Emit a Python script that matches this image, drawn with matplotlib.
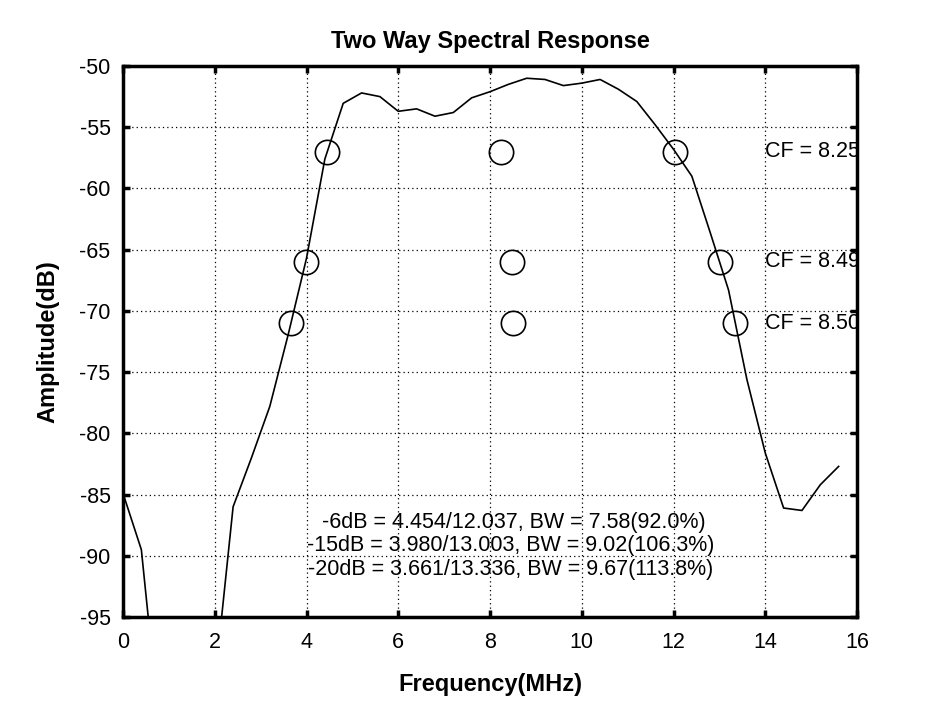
import matplotlib
matplotlib.use("Agg")
import matplotlib.pyplot as plt

plt.rcParams['font.family'] = ['Liberation Sans', 'DejaVu Sans']
plt.rcParams['axes.unicode_minus'] = False

# Spectral response data (MHz, dB)
freq = [0.0, 0.4, 0.8, 1.2, 1.6, 2.0, 2.4, 2.8, 3.2, 3.6,
        4.0, 4.4, 4.8, 5.2, 5.6, 6.0, 6.4, 6.8, 7.2, 7.6,
        8.0, 8.4, 8.8, 9.2, 9.6, 10.0, 10.4, 10.8, 11.2, 11.6,
        12.0, 12.4, 12.8, 13.2, 13.6, 14.0, 14.4, 14.8, 15.2, 15.6]
amp = [-84.9, -89.5, -104.2, -106.0, -108.0, -100.4, -86.0, -82.0, -77.8, -71.95,
       -65.7, -57.6, -53.05, -52.2, -52.5, -53.7, -53.5, -54.1, -53.8, -52.6,
       -52.1, -51.5, -51.0, -51.1, -51.6, -51.4, -51.1, -51.9, -52.9, -54.8,
       -56.8, -59.0, -63.6, -68.3, -75.6, -81.6, -86.1, -86.3, -84.2, -82.7]

# Band edge markers: levels, lower/upper edges, centre frequencies
levels = [-57, -66, -71]
f_low = [4.454, 3.980, 3.661]
f_high = [12.037, 13.003, 13.336]
cf = [8.25, 8.49, 8.50]
cf_labels = ["CF = 8.25", "CF = 8.49", "CF = 8.50"]
summary = [" -6dB = 4.454/12.037, BW = 7.58(92.0%)",
           "-15dB = 3.980/13.003, BW = 9.02(106.3%)",
           "-20dB = 3.661/13.336, BW = 9.67(113.8%)"]
summary_y = [-87.3, -89.2, -91.1]

xticks = [0, 2, 4, 6, 8, 10, 12, 14, 16]
yticks = [-95, -90, -85, -80, -75, -70, -65, -60, -55, -50]

fig = plt.figure(figsize=(9.47, 7.10), dpi=100)
ax = fig.add_axes([123/947, 1 - 617/710, (857-123)/947, (617-66)/710])

ax.plot(freq, amp, color='black', lw=1.2)

for lv, lo, hi, c in zip(levels, f_low, f_high, cf):
    ax.plot([lo, c, hi], [lv, lv, lv], linestyle='none', marker='o',
            markersize=17.5, markerfacecolor='none', markeredgecolor='black',
            markeredgewidth=1.2)

for lv, lab in zip(levels, cf_labels):
    ax.text(14.0, lv, lab, fontsize=15.5, ha='left', va='center', clip_on=True)

for yy, s in zip(summary_y, summary):
    ax.text(8.45, yy, s, fontsize=15.5, ha='center', va='center')

ax.set_xlim(0, 16)
ax.set_ylim(-95, -50)
ax.set_xticks(xticks)
ax.set_yticks(yticks)
ax.tick_params(direction='in', length=5, width=2.5, top=True, right=True,
               labelsize=15.5)
ax.tick_params(axis='x', pad=11)
ax.tick_params(axis='y', pad=9)
for sp in ax.spines.values():
    sp.set_linewidth(2.5)
ax.grid(True, color='black', linestyle=(0, (1, 2.5)), linewidth=0.9)

ax.set_title("Two Way Spectral Response", fontsize=17, fontweight='bold', pad=13)
ax.set_xlabel("Frequency(MHz)", fontsize=17, fontweight='bold', labelpad=14)
ax.set_ylabel("Amplitude(dB)", fontsize=17, fontweight='bold', labelpad=14)

fig.savefig("out.png", dpi=100)
